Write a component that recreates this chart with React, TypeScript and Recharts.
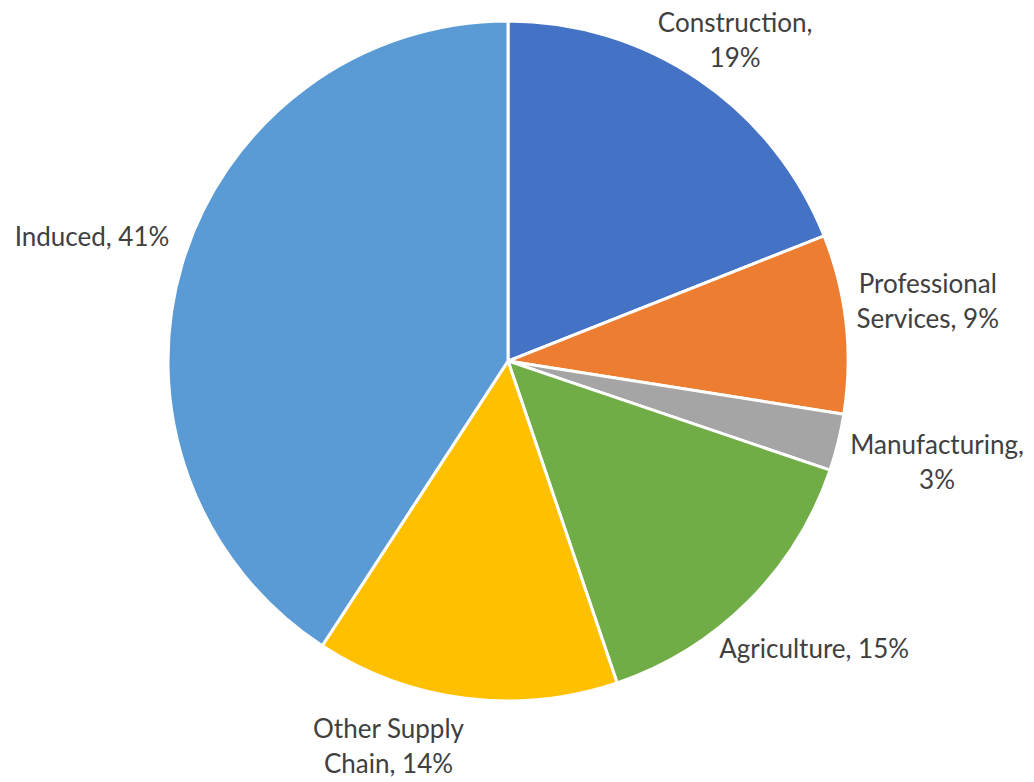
import React from "react";
import { PieChart, Pie, Cell } from "recharts";

const categories = [
  "Construction",
  "Professional Services",
  "Manufacturing",
  "Agriculture",
  "Other Supply Chain",
  "Induced",
];
const shares = [19.0, 8.5, 2.7, 14.6, 14.4, 40.8];
const labelLines = [
  ["Construction,", "19%"],
  ["Professional", "Services, 9%"],
  ["Manufacturing,", "3%"],
  ["Agriculture, 15%"],
  ["Other Supply", "Chain, 14%"],
  ["Induced, 41%"],
];
const colors = ["#4472C4", "#ED7D31", "#A5A5A5", "#70AD47", "#FFC000", "#5B9BD5"];

// label layout: extra distance beyond the pie edge, and clockwise angular nudge (deg) from the slice mid-angle
const labelGap = [53, 84, 101, 80, 64, 94];
const labelNudge = [1.1, -1.8, -0.5, -1.8, 10.0, 0];

const data = categories.map((name, i) => ({ name, value: shares[i] }));

const FONT_SIZE = 26;
const LINE_H = 35;
const CAP_HALF = 9;
const FONT = "Lato, Calibri, Carlito, sans-serif";

const RAD = Math.PI / 180;

const renderLabel = (props: any) => {
  const { cx, cy, midAngle, outerRadius, index } = props;
  const lines = labelLines[index];
  const cw = (90 - midAngle + labelNudge[index]) * RAD;
  const r = outerRadius + labelGap[index];
  const x = cx + r * Math.sin(cw);
  const y = cy - r * Math.cos(cw);
  const top = y - ((lines.length - 1) * LINE_H) / 2 + CAP_HALF;
  return (
    <text
      key={`lbl-${index}`}
      x={x}
      y={top}
      textAnchor="middle"
      fill="#404040"
      fontSize={FONT_SIZE}
      fontFamily={FONT}
    >
      {lines.map((l, i) => (
        <tspan key={i} x={x} y={top + i * LINE_H}>
          {l}
        </tspan>
      ))}
    </text>
  );
};

export default function App() {
  return (
    <div style={{ position: "absolute", left: 0, top: 0, width: 1034, height: 782, background: "#fff" }}>
      <PieChart width={1034} height={782} margin={{ top: 0, right: 0, bottom: 0, left: 0 }}>
        <Pie
          data={data}
          dataKey="value"
          nameKey="name"
          cx={508}
          cy={361}
          outerRadius={340}
          startAngle={90}
          endAngle={-270}
          stroke="#ffffff"
          strokeWidth={3}
          label={renderLabel}
          labelLine={false}
          isAnimationActive={false}
        >
          {data.map((d, i) => (
            <Cell key={d.name} fill={colors[i]} />
          ))}
        </Pie>
      </PieChart>
    </div>
  );
}
